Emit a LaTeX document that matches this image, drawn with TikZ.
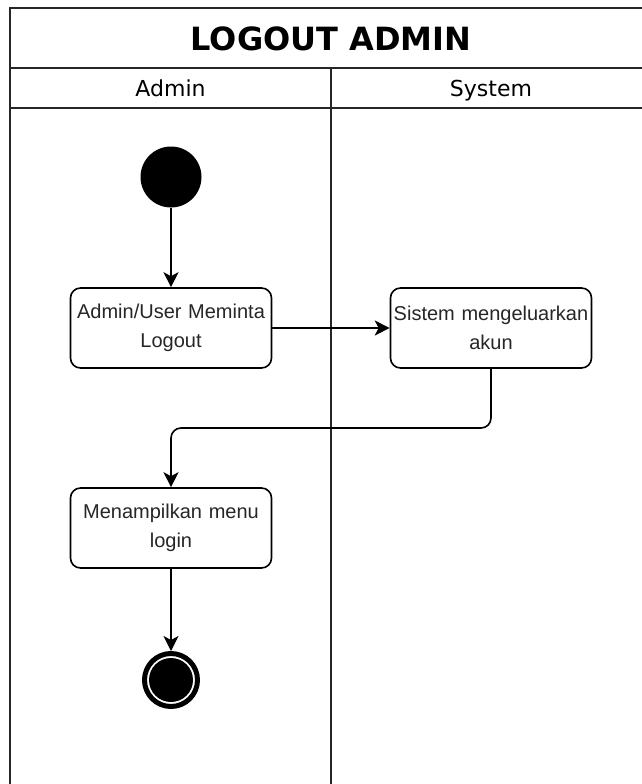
\documentclass[tikz,border=0pt]{standalone}
\usepackage{fontspec}
\setmainfont{Liberation Sans}
\newfontfamily\dvfont{DejaVu Sans}
\usetikzlibrary{arrows.meta}
\begin{document}
\begin{tikzpicture}[x=1pt,y=-1pt,
  lane/.style={line width=2pt, draw=black!85},
  actbox/.style={draw=black, line width=1.6pt, rounded corners=10pt,
    minimum width=201pt, minimum height=80pt, text width=200pt,
    align=center, inner sep=0pt, text=black!85,
    font=\fontsize{20}{29}\selectfont},
  flow/.style={line width=1.6pt, draw=black,
    -{Stealth[length=15pt,width=15pt,inset=4pt]}},
  headtext/.style={font=\dvfont\fontsize{22}{26}\selectfont, inner sep=0pt, anchor=base},
]
\useasboundingbox (0,0) rectangle (642,784);
\fill[white] (0,0) rectangle (642,784);
% pool frame
\draw[lane] (10,784) -- (10,8) -- (642,8);
\draw[lane] (10,68) -- (642,68);
\draw[lane] (10,108) -- (642,108);
\draw[lane] (331,68) -- (331,784);
% titles
\node[inner sep=0pt, font=\dvfont\bfseries\fontsize{32}{36}\selectfont] (title) at (331,39) {LOGOUT ADMIN};
\node[headtext] (hadmin) at (170.5,96) {Admin};
\node[headtext] (hsys) at (491,96) {System};
% nodes
\node[circle, fill=black, minimum size=61pt, inner sep=0pt] (start) at (171,177) {};
\node[actbox] (a1) at (171,328) {Admin/User Meminta\\Logout};
\node[actbox] (a2) at (491,328) {Sistem mengeluarkan\\akun};
\node[actbox] (a3) at (171,528) {Menampilkan menu\\login};
\node[circle, draw=black, line width=5pt, minimum size=53pt, inner sep=0pt] (end) at (171,680) {};
\node[circle, fill=black, minimum size=44pt, inner sep=0pt] (endin) at (end.center) {};
% connectors
\draw[flow] (start) -- (a1);
\draw[flow] (a1) -- (a2);
\draw[flow, rounded corners=10pt] (a2.south) -- (a2.south |- 0,428) -| (a3.north);
\draw[flow] (a3) -- (end);
\end{tikzpicture}
\end{document}
